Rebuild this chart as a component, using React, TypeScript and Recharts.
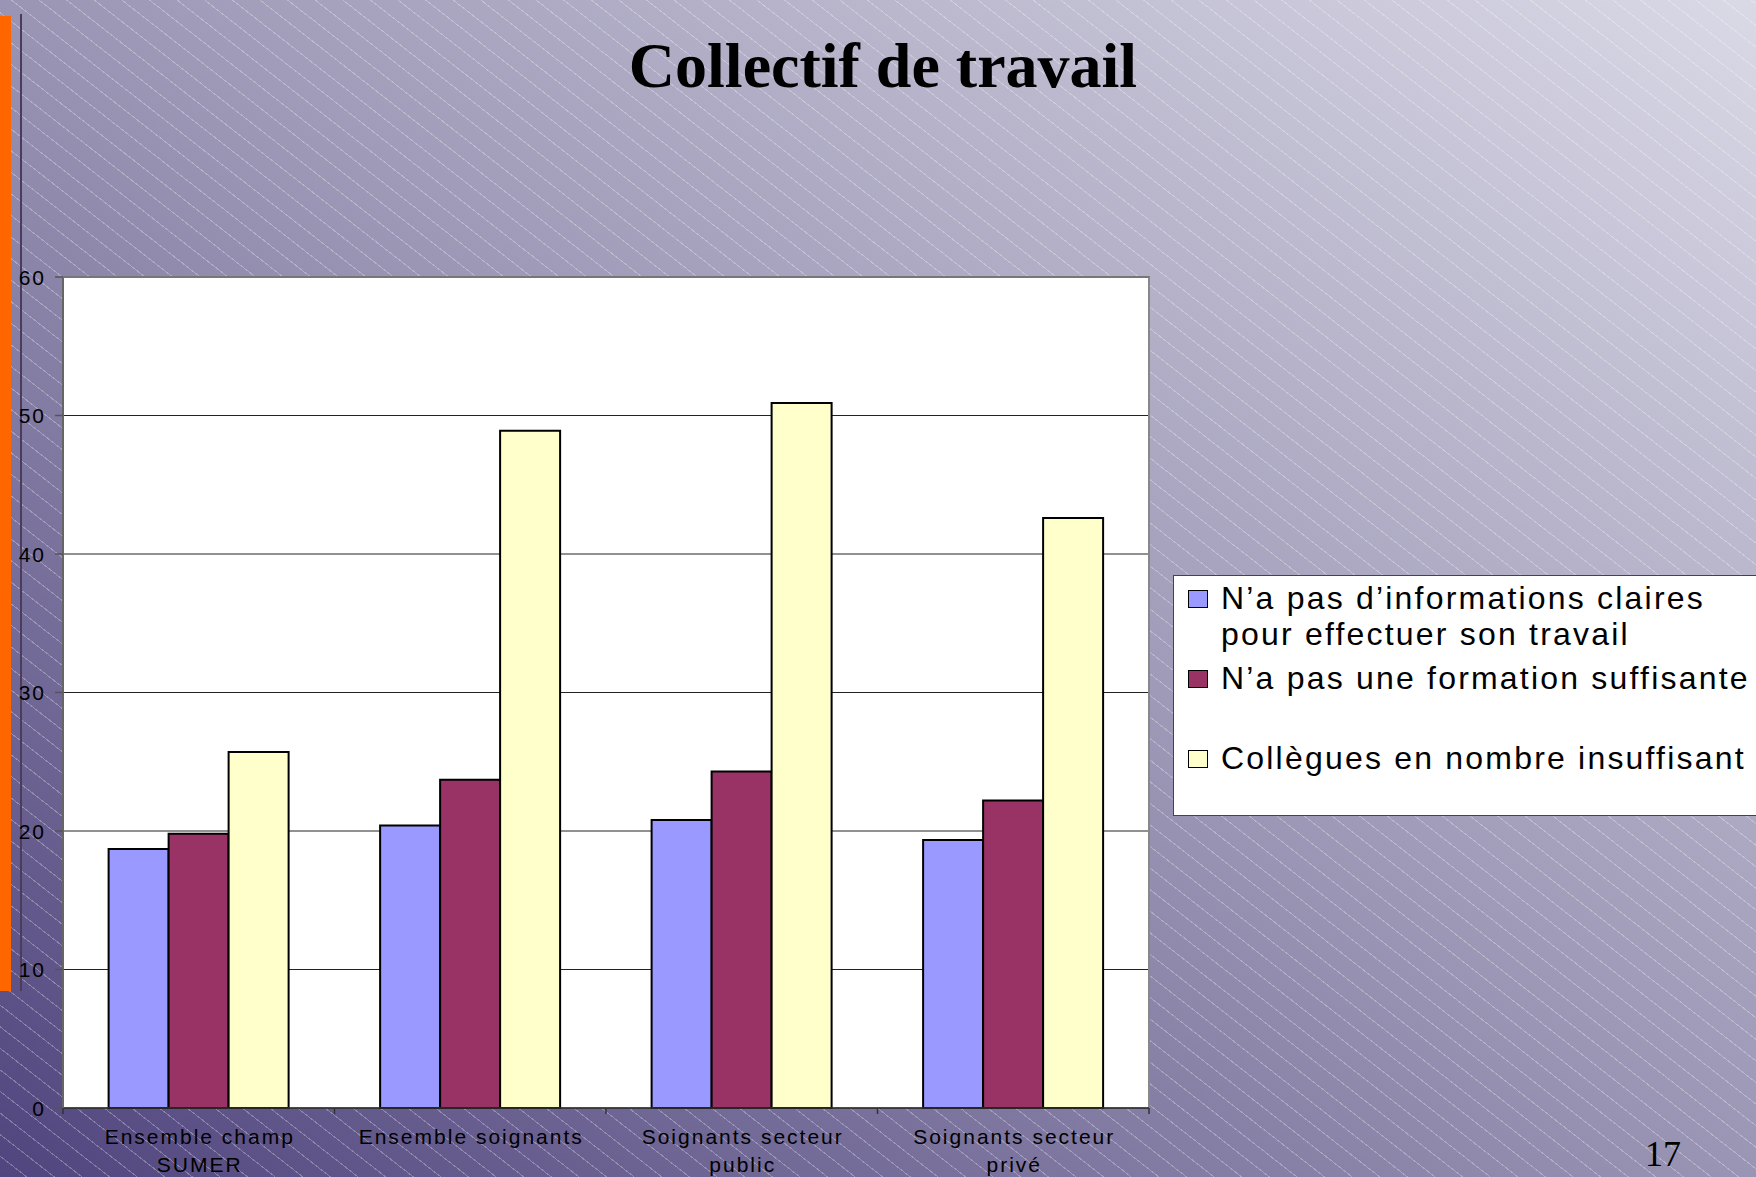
import React from 'react';
import { BarChart, Bar, XAxis, YAxis, CartesianGrid, Legend } from 'recharts';

const categories = [
  'Ensemble champ\nSUMER',
  'Ensemble soignants',
  'Soignants secteur\npublic',
  'Soignants secteur\nprivé',
];
const infoValues = [18.7, 20.4, 20.8, 19.35];
const formationValues = [19.8, 23.7, 24.3, 22.2];
const colleguesValues = [25.7, 48.9, 50.9, 42.6];
const seriesKeys = ['info', 'formation', 'collegues'];
const seriesNames = [
  'N’a pas d’informations claires\npour effectuer son travail',
  'N’a pas une formation suffisante',
  'Collègues en nombre insuffisant',
];
const seriesColors = ['#9999ff', '#993366', '#ffffcc'];
const yTicks = [0, 10, 20, 30, 40, 50, 60];
const titleText = 'Collectif de travail';
const pageNumber = '17';

const data = categories.map((c, i) => ({
  category: c,
  info: infoValues[i],
  formation: formationValues[i],
  collegues: colleguesValues[i],
}));

const W = 1756;
const H = 1177;
const PLOT_LEFT = 63;
const PLOT_RIGHT = 1149;
const PLOT_TOP = 277;
const PLOT_BOTTOM = 1108;
const BAND = (PLOT_RIGHT - PLOT_LEFT) / categories.length;
const SANS = '"Liberation Sans", Arial, sans-serif';
const SERIF = '"Liberation Serif", "Times New Roman", serif';

const XTick = (props: any) => {
  const { x, y, payload, index } = props;
  const lines = String(payload.value).split('\n');
  const half = BAND / 2;
  return (
    <g>
      <line x1={x - half} y1={y} x2={x - half} y2={y + 6} stroke="#333" strokeWidth={1.5} />
      {index === categories.length - 1 && (
        <line x1={x + half} y1={y} x2={x + half} y2={y + 6} stroke="#333" strokeWidth={1.5} />
      )}
      <text
        x={x + 1}
        y={y + 36}
        textAnchor="middle"
        fontSize={21}
        letterSpacing={2}
        fill="#000"
        fontFamily={SANS}
      >
        {lines.map((l, i) => (
          <tspan key={i} x={x + 1} dy={i === 0 ? 0 : 28}>
            {l}
          </tspan>
        ))}
      </text>
    </g>
  );
};

const YTick = (props: any) => {
  const { x, y, payload } = props;
  return (
    <text
      x={x}
      y={y}
      dy="0.36em"
      textAnchor="end"
      fontSize={21}
      letterSpacing={2}
      fill="#000"
      fontFamily={SANS}
    >
      {payload.value}
    </text>
  );
};

const LegendBox = () => (
  <div
    style={{
      position: 'relative',
      width: 620,
      height: 241,
      background: '#fff',
      border: '1.5px solid #444',
      boxSizing: 'border-box',
      fontFamily: SANS,
    }}
  >
    {seriesNames.map((name, i) => (
      <div key={i} style={{ position: 'absolute', left: 0, top: 5 + i * 80, width: '100%' }}>
        <div
          style={{
            position: 'absolute',
            left: 14,
            top: 9,
            width: 20,
            height: 18,
            background: seriesColors[i],
            border: '1.5px solid #000',
            boxSizing: 'border-box',
          }}
        />
        <div
          style={{
            position: 'absolute',
            left: 47,
            top: -1,
            fontSize: 32,
            lineHeight: '36px',
            letterSpacing: 2.2,
            whiteSpace: 'pre',
            color: '#000',
          }}
        >
          {name}
        </div>
      </div>
    ))}
  </div>
);

export default function App() {
  return (
    <div
      style={{
        position: 'absolute',
        left: 0,
        top: 0,
        width: W,
        height: H,
        overflow: 'hidden',
        background:
          'repeating-linear-gradient(38deg, rgba(255,255,255,0) 0px, rgba(255,255,255,0) 16px, rgba(255,255,255,0.28) 16px, rgba(255,255,255,0.28) 17px), linear-gradient(to top right, #50457e 0%, #9a95b4 50%, #dad9e6 100%)',
      }}
    >
      <div style={{ position: 'absolute', left: 0, top: 16, width: 11, height: 975, background: '#ff6600' }} />
      <div style={{ position: 'absolute', left: 20, top: 14, width: 2, height: 977, background: '#4b3c5c' }} />
      <div
        style={{
          position: 'absolute',
          left: 0,
          top: 34,
          width: 1766,
          textAlign: 'center',
          fontFamily: SERIF,
          fontWeight: 'bold',
          fontSize: 64,
          lineHeight: '64px',
          color: '#000',
        }}
      >
        {titleText}
      </div>
      <div
        style={{
          position: 'absolute',
          left: 1645,
          top: 1134,
          fontFamily: SERIF,
          fontSize: 36,
          lineHeight: '40px',
          color: '#000',
        }}
      >
        {pageNumber}
      </div>
      <div style={{ position: 'absolute', left: 0, top: 0 }}>
        <BarChart
          width={W}
          height={H}
          data={data}
          margin={{ top: PLOT_TOP, right: W - PLOT_RIGHT, bottom: H - PLOT_BOTTOM - 60, left: 0 }}
          barCategoryGap="16.8%"
          barGap={0}
        >
          <CartesianGrid vertical={false} stroke="#222" strokeWidth={1} fill="#ffffff" fillOpacity={1} />
          <XAxis
            dataKey="category"
            height={60}
            tick={<XTick />}
            tickLine={false}
            tickSize={0}
            tickMargin={0}
            interval={0}
            axisLine={{ stroke: '#333', strokeWidth: 1.5 }}
          />
          <YAxis
            width={PLOT_LEFT}
            domain={[0, 60]}
            ticks={yTicks}
            interval={0}
            tick={<YTick />}
            tickSize={8}
            tickMargin={9}
            axisLine={{ stroke: '#666', strokeWidth: 2 }}
            tickLine={{ stroke: '#555', strokeWidth: 1.5 }}
          />
          {seriesKeys.map((k, i) => (
            <Bar
              key={k}
              dataKey={k}
              name={seriesNames[i]}
              fill={seriesColors[i]}
              stroke="#000"
              strokeWidth={2}
              isAnimationActive={false}
            />
          ))}
          <Legend
            layout="horizontal"
            verticalAlign="middle"
            align="center"
            content={<LegendBox />}
            wrapperStyle={{ position: 'absolute', left: 1173, top: 575, width: 620, height: 241 }}
          />
        </BarChart>
      </div>
      <div
        style={{
          position: 'absolute',
          left: PLOT_LEFT,
          top: PLOT_TOP - 1,
          width: PLOT_RIGHT - PLOT_LEFT + 1,
          height: PLOT_BOTTOM - PLOT_TOP,
          borderTop: '2px solid #777',
          borderRight: '2px solid #888',
          boxSizing: 'border-box',
          pointerEvents: 'none',
        }}
      />
    </div>
  );
}
